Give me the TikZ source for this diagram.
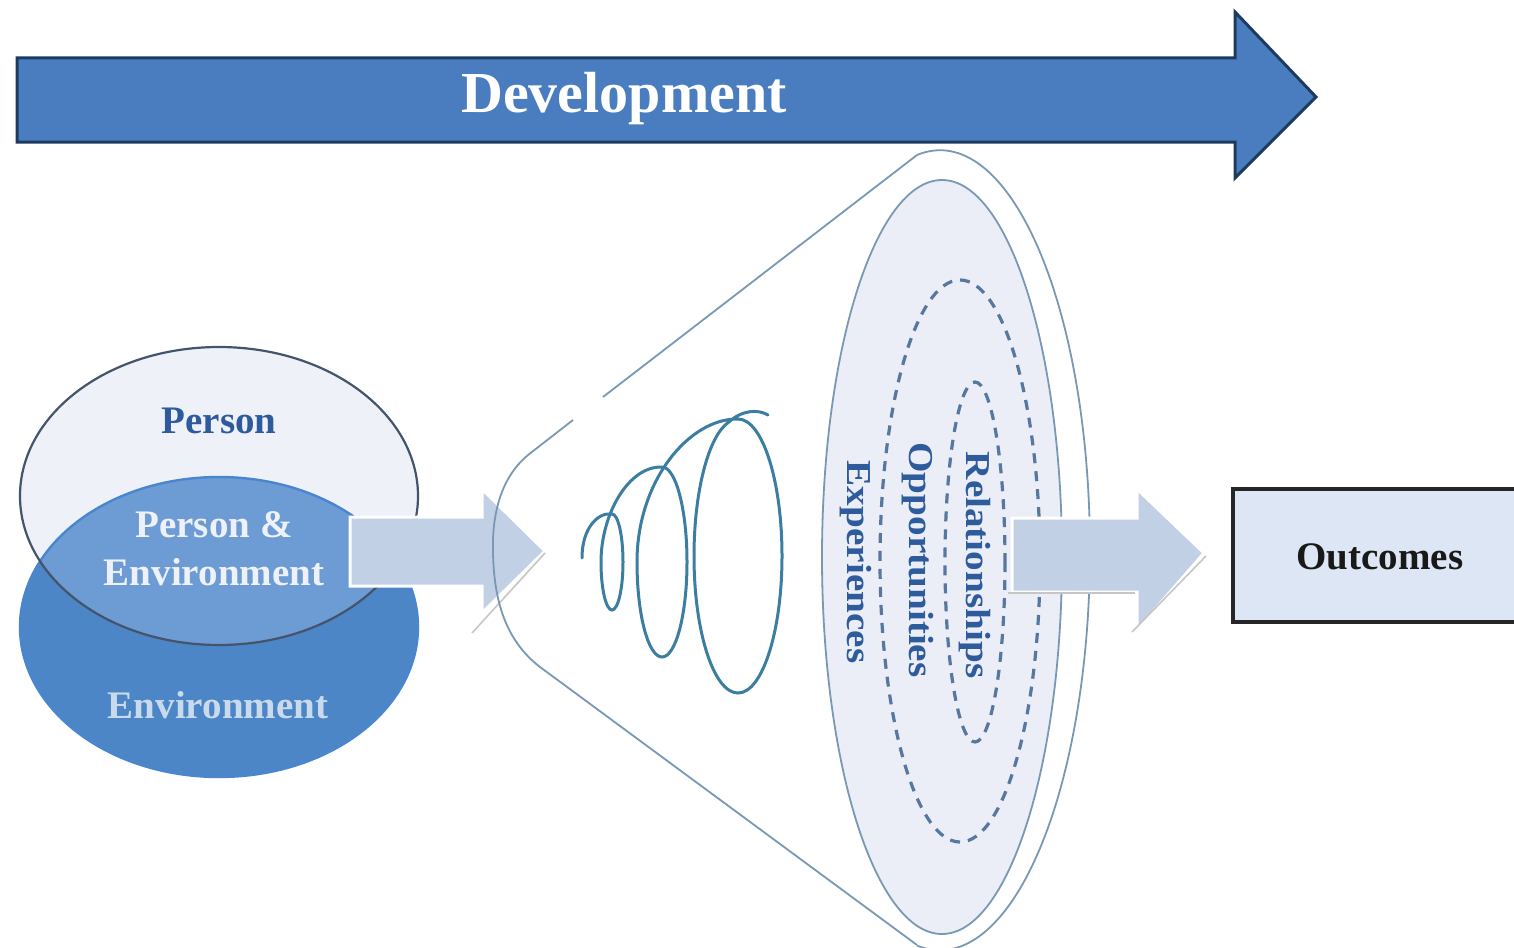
\documentclass[tikz,border=0pt]{standalone}
\usepackage{fontspec}
\setmainfont{Liberation Serif}
\newfontfamily\widefont[FakeStretch=1.12]{Liberation Serif}
\definecolor{devblue}{HTML}{4A7DBF}
\definecolor{devedge}{HTML}{1F3A5F}
\definecolor{personfill}{HTML}{EEF1F8}
\definecolor{personedge}{HTML}{44546A}
\definecolor{envfill}{HTML}{4C86C7}
\definecolor{envedge}{HTML}{4A86D0}
\definecolor{overlapfill}{HTML}{6D9BD3}
\definecolor{lightarrow}{HTML}{C2D0E6}
\definecolor{conecol}{HTML}{7898B4}
\definecolor{innerfill}{HTML}{EBEEF6}
\definecolor{dashcol}{HTML}{56779F}
\definecolor{textblue}{HTML}{2E5B9C}
\definecolor{spiralcol}{HTML}{3C7DA2}
\definecolor{outfill}{HTML}{DCE6F4}
\begin{document}
\begin{tikzpicture}[x=0.5pt,y=-0.5pt,
  lbl/.style={font=\fontsize{19.5}{22}\selectfont\bfseries, inner sep=0pt},
  vlbl/.style={font=\widefont\fontsize{17.5}{20}\selectfont\bfseries, inner sep=0pt, rotate=-90, text=textblue},
  conline/.style={draw=conecol, line width=0.9pt},
  dashring/.style={draw=dashcol, line width=1.6pt, dash pattern=on 5pt off 4pt},
  bigarrow/.style={fill=lightarrow, draw=white, line width=1.5pt},
  shadowline/.style={draw=gray!45, line width=0.8pt},
  spiral/.style={draw=spiralcol, line width=1.5pt}
]
\useasboundingbox (0,0) rectangle (1514,947);

% Development arrow
\draw[draw=devedge, fill=devblue, line width=1.5pt, line join=miter]
  (17,58) -- (1235,58) -- (1235,12) -- (1316,97) -- (1235,178) -- (1235,142) -- (17,142) -- cycle;
\node[text=white, font=\fontsize{29}{34}\selectfont\bfseries] (dev) at (624,99) {Development};

% Person / Environment ellipses
\fill[personfill] (219,496) ellipse [x radius=199, y radius=149];
\fill[envfill] (219,627) ellipse [x radius=199, y radius=150];
\begin{scope}
  \clip (219,496) ellipse [x radius=199, y radius=149];
  \fill[overlapfill] (219,627) ellipse [x radius=199, y radius=150];
\end{scope}
\draw[envedge, line width=1.2pt] (219,627) ellipse [x radius=199, y radius=150];
\draw[personedge, line width=1.1pt] (219,496) ellipse [x radius=199, y radius=149];
\node[lbl, text=textblue] (person) at (219,421) {Person};
\node[lbl, text=personfill, align=center, font=\fontsize{19.5}{24}\selectfont\bfseries] (pe) at (214,549) {Person \&\\Environment};
\node[lbl, text=personfill!78!envfill] (env) at (218,705) {Environment};

% arrow into the cone
\draw[bigarrow] (350,517) -- (482,517) -- (482,489) -- (545,551) -- (482,613) -- (482,586) -- (350,586) -- cycle;
\draw[shadowline] (545,553) -- (472,633);

% cone outline
\draw[conline] (603,397) -- (917,155);
\draw[conline] (917,155) arc [start angle=-98.8, end angle=98.8, x radius=150, y radius=400];
\draw[conline] (573,420) -- (528,455) .. controls (498,480) and (492,520) .. (493,553)
  .. controls (494,600) and (505,640) .. (540,667) -- (917,945);

% inner ellipses
\draw[conline, fill=innerfill] (942,557) ellipse [x radius=120, y radius=377];
\draw[dashring] (960,561) ellipse [x radius=80, y radius=281];
\draw[dashring] (975,562) ellipse [x radius=30, y radius=180];

% texts inside
\node[vlbl] (rel) at (975,565) {Relationships};
\node[vlbl] (opp) at (918,560) {Opportunities};
\node[vlbl] (exp) at (856,562) {Experiences};

% spiral
\draw[spiral, line cap=round]
  (582,558) .. controls (582,528) and (598,512) .. (612,514)
  arc [start angle=-90, end angle=180, x radius=11, y radius=48]
  .. controls (601,515) and (628,466) .. (662,467)
  arc [start angle=-90, end angle=180, x radius=25, y radius=95]
  .. controls (637,480) and (690,418) .. (738,419)
  arc [start angle=-90, end angle=258, x radius=44, y radius=137]
  .. controls (742,410) and (758,409) .. (768,415);

% arrow to outcomes
\draw[bigarrow] (1012,518) -- (1137,518) -- (1137,489) -- (1204,553) -- (1137,630) -- (1137,592) -- (1012,592) -- cycle;
\draw[shadowline] (1008,593) -- (1135,593);
\draw[shadowline] (1206,556) -- (1132,632);

% outcomes box
\draw[draw=black!85, fill=outfill, line width=1.8pt] (1233,489) rectangle (1522,622);
\node[lbl, text=black!90] (out) at (1380,557) {Outcomes};
\end{tikzpicture}
\end{document}
